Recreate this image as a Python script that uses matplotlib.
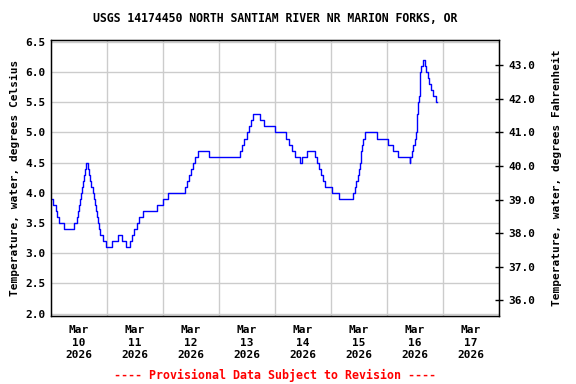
import matplotlib
matplotlib.use("Agg")
import matplotlib.pyplot as plt
import numpy as np

# Hours since Mar 10 2026 00:00 and water temperature (deg C)
hours = [0.0, 1.0, 2.1, 2.6, 3.4, 5.6, 10.0, 11.3, 11.7, 12.1, 12.6, 12.9, 13.3, 13.7,
         14.1, 14.6, 14.9, 15.7, 16.3, 16.7, 17.1, 18.0, 18.4, 18.9, 19.2, 19.6, 20.0,
         20.4, 21.1, 22.3, 23.7, 26.3, 28.8, 30.6, 32.3, 34.0, 34.8, 35.7, 37.0, 37.8,
         39.6, 45.6, 48.1, 50.1, 57.6, 58.4, 59.3, 60.1, 61.0, 61.8, 63.1, 67.7, 81.1,
         81.9, 82.5, 83.8, 84.9, 85.7, 86.7, 89.6, 91.3, 95.9, 100.8, 102.0, 103.1,
         104.6, 106.7, 107.7, 109.8, 113.3, 114.1, 115.0, 115.8, 116.7, 117.6, 120.6,
         123.6, 129.6, 130.2, 130.7, 131.4, 131.9, 132.4, 132.7, 133.0, 133.4, 133.8,
         134.7, 139.8, 144.4, 146.7, 148.8, 153.7, 154.0, 154.7, 155.3, 155.9, 156.4,
         156.7, 157.0, 157.4, 157.7, 158.0, 158.3, 158.7, 159.4, 160.2, 160.7, 161.4,
         162.1, 162.7, 163.8, 165.0, 165.6]
temp_c = [3.9, 3.8, 3.7, 3.6, 3.5, 3.4, 3.5, 3.6, 3.7, 3.8, 3.9, 4.0, 4.1, 4.2,
          4.3, 4.4, 4.5, 4.4, 4.3, 4.2, 4.1, 4.0, 3.9, 3.8, 3.7, 3.6, 3.5,
          3.4, 3.3, 3.2, 3.1, 3.2, 3.3, 3.2, 3.1, 3.2, 3.3, 3.4, 3.5, 3.6,
          3.7, 3.8, 3.9, 4.0, 4.1, 4.2, 4.3, 4.4, 4.5, 4.6, 4.7, 4.6, 4.7,
          4.8, 4.9, 5.0, 5.1, 5.2, 5.3, 5.2, 5.1, 5.0, 4.9, 4.8, 4.7,
          4.6, 4.5, 4.6, 4.7, 4.6, 4.5, 4.4, 4.3, 4.2, 4.1, 4.0,
          3.9, 4.0, 4.1, 4.2, 4.3, 4.4, 4.5, 4.6, 4.7, 4.8, 4.9,
          5.0, 4.9, 4.8, 4.7, 4.6, 4.5, 4.6, 4.7, 4.8, 4.9, 5.0,
          5.2, 5.3, 5.5, 5.6, 5.8, 6.0, 6.1, 6.2, 6.1, 6.0, 5.9,
          5.8, 5.7, 5.6, 5.5, 5.5]

day_labels = ["Mar\n10\n2026", "Mar\n11\n2026", "Mar\n12\n2026", "Mar\n13\n2026",
              "Mar\n14\n2026", "Mar\n15\n2026", "Mar\n16\n2026", "Mar\n17\n2026"]
c_ticks = [2.0, 2.5, 3.0, 3.5, 4.0, 4.5, 5.0, 5.5, 6.0, 6.5]
f_ticks = [36.0, 37.0, 38.0, 39.0, 40.0, 41.0, 42.0, 43.0]

FONT = "DejaVu Sans Mono"
plt.rcParams["font.family"] = FONT
plt.rcParams["font.weight"] = "bold"

fig = plt.figure(figsize=(5.76, 3.84), dpi=100)
ax = fig.add_axes([51 / 576, 1 - 315.5 / 384, 448 / 576, 275.5 / 384])

ax.step(np.array(hours) / 24.0, temp_c, where="post", color="#0000ff", lw=1)

ymin, ymax = 1.967, 6.533
ax.set_xlim(0, 8)
ax.set_ylim(ymin, ymax)

# day boundaries as grid, labels at midday
ax.set_xticks(np.arange(1, 8), minor=False)
ax.set_xticklabels([])
ax.set_xticks(np.arange(8) + 0.5, minor=True)
ax.set_xticklabels(day_labels, minor=True, fontsize=8, fontweight="bold", linespacing=1.3)
ax.tick_params(axis="x", which="both", length=0, pad=7)
ax.set_yticks(c_ticks)
ax.set_yticklabels([f"{v:.1f}" for v in c_ticks], fontsize=8, fontweight="bold")
ax.tick_params(axis="y", length=0, pad=4)
ax.grid(True, which="major", color="#cccccc", lw=1)
ax.set_axisbelow(True)
for s in ax.spines.values():
    s.set_linewidth(1)

ax.set_ylabel("Temperature, water, degrees Celsius", fontsize=8, fontweight="bold", labelpad=4)

ax2 = ax.twinx()
ax2.set_ylim(ymin * 9 / 5 + 32, ymax * 9 / 5 + 32)
ax2.set_yticks(f_ticks)
ax2.set_yticklabels([f"{v:.1f}" for v in f_ticks], fontsize=8, fontweight="bold")
ax2.tick_params(axis="y", direction="inout", length=6, width=1, pad=4)
ax2.set_ylabel("Temperature, water, degrees Fahrenheit", fontsize=8, fontweight="bold", labelpad=12)

fig.text(0.478, 1 - 19 / 384, "USGS 14174450 NORTH SANTIAM RIVER NR MARION FORKS, OR",
         ha="center", va="center", fontsize=8.3, fontweight="bold")
fig.text(0.477, 1 - 375 / 384, "---- Provisional Data Subject to Revision ----",
         ha="center", va="center", fontsize=8.4, fontweight="bold", color="red")

fig.savefig("out.png", dpi=100)
